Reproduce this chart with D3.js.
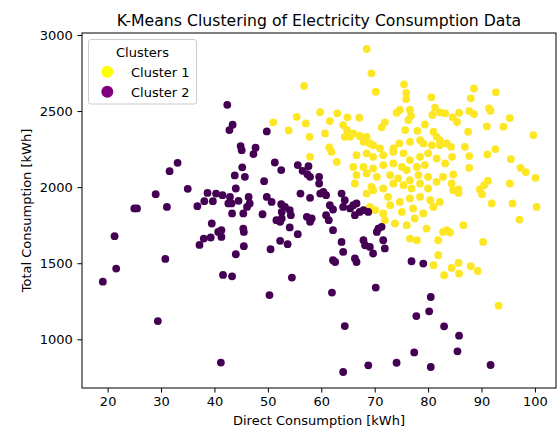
<!DOCTYPE html>
<html>
<head>
<meta charset="utf-8">
<script src="https://cdn.jsdelivr.net/npm/d3@7"></script>
<style>
  body { margin: 0; background: #fff; }
  svg text { font-family: "DejaVu Sans", sans-serif; fill: #000; }
</style>
</head>
<body>
<svg id="chart" width="558" height="430"></svg>
<script>
// cluster 1 (yellow) points: [direct kWh, total kWh]
const cluster1 = [
  [56.8,2665],[51.0,2426],[55.4,2462],[57.1,2419],[59.8,2493],[61.6,2434],[63.0,2485],[53.9,2373],[57.8,2331],[60.7,2353],
  [61.5,2261],[57.9,2199],[61.9,2232],[62.9,2166],[68.5,2908],[69.4,2748],[70.2,2627],[75.5,2676],[75.9,2620],[75.9,2579],
  [80.6,2590],[81.3,2522],[80.8,2474],[82.2,2491],[83.2,2485],[74.7,2507],[74.1,2489],[76.6,2507],[76.8,2469],[76.3,2441],
  [71.9,2426],[71.3,2393],[67.1,2456],[64.9,2459],[64.1,2408],[64.8,2375],[65.4,2331],[64.4,2331],[75.7,2375],[78.0,2370],
  [79.4,2412],[81.0,2364],[81.6,2331],[82.2,2309],[66.0,2353],[67.2,2336],[68.5,2331],[67.9,2298],[69.1,2287],[69.7,2276],
  [74.6,2287],[76.6,2298],[78.5,2309],[79.1,2287],[80.7,2276],[82.2,2276],[83.5,2287],[73.5,2255],[71.0,2255],[66.6,2210],
  [68.5,2222],[69.7,2199],[71.6,2210],[73.5,2232],[75.4,2222],[76.6,2178],[78.5,2199],[80.0,2222],[81.6,2189],[83.2,2156],
  [66.0,2133],[67.9,2133],[69.7,2123],[71.6,2145],[73.5,2156],[75.1,2133],[76.0,2112],[77.9,2133],[79.4,2145],[66.6,2079],
  [68.5,2090],[70.4,2068],[72.9,2079],[74.4,2057],[76.6,2046],[78.2,2079],[80.0,2068],[81.6,2035],[82.8,2068],[66.3,2024],
  [69.4,2002],[71.6,1991],[73.5,2024],[75.4,2013],[76.9,1991],[78.5,2024],[80.0,1991],[68.5,1958],[69.7,1980],[72.5,1936],
  [74.7,1903],[76.6,1926],[78.5,1936],[80.4,1914],[82.2,1903],[69.1,1870],[70.1,1849],[71.6,1827],[72.9,1881],[75.1,1837],
  [77.2,1860],[79.1,1827],[81.0,1870],[71.9,1783],[73.8,1761],[76.0,1750],[77.5,1794],[79.7,1728],[76.6,1662],[77.9,1651],
  [81.9,1651],[82.8,1706],[83.5,1717],[81.9,1553],[81.0,1487],[83.0,1421],[88.6,2649],[92.7,2623],[88.0,2584],[85.8,2489],
  [84.6,2459],[85.4,2428],[87.7,2500],[88.6,2480],[91.4,2518],[91.7,2502],[95.3,2454],[94.1,2397],[91.0,2399],[87.5,2364],
  [99.7,2342],[84.3,2265],[84.5,2199],[86.9,2265],[87.7,2204],[91.1,2215],[92.6,2250],[95.5,2184],[87.7,2127],[97.3,2127],
  [98.3,2099],[100.1,2061],[84.7,2083],[84.4,2024],[95.3,2024],[91.2,2041],[90.5,2013],[89.7,1985],[90.1,1954],[84.7,1980],
  [85.7,1985],[85.7,1962],[91.9,1893],[95.8,1893],[100.3,1870],[97.1,1787],[86.6,1750],[84.1,1702],[90.3,1640],[85.7,1502],
  [84.4,1469],[85.8,1432],[88.0,1480],[89.3,1449],[93.2,1221]
];

// cluster 2 (purple) points
const cluster2 = [
  [33.1,2160],[31.6,2105],[29.0,1954],[35.0,1989],[25.0,1860],[25.5,1860],[31.1,1870],[36.8,1875],[38.7,1962],[40.3,1958],
  [38.1,1908],[39.7,1908],[39.5,1761],[40.7,1706],[21.3,1678],[38.0,1662],[39.3,1669],[37.2,1620],[30.8,1528],[21.6,1465],
  [19.1,1379],[29.4,1120],[42.4,2541],[43.4,2410],[42.8,2375],[49.8,2366],[44.9,2270],[47.7,2259],[45.1,2243],[47.3,2217],
  [51.3,2162],[52.5,2112],[45.2,2130],[43.8,2077],[45.7,2068],[55.6,2145],[56.5,2107],[57.6,2138],[57.4,2085],[57.9,2068],
  [59.6,2068],[59.6,2024],[59.8,1958],[60.4,1969],[60.9,1947],[49.3,2039],[44.0,1991],[41.5,1947],[42.9,1936],[43.2,1893],
  [44.5,1910],[42.6,1893],[46.4,1936],[46.6,1893],[46.1,1870],[49.8,1936],[50.7,1903],[52.5,1888],[53.2,1870],[56.1,1958],
  [57.9,1930],[43.3,1827],[45.4,1827],[49.0,1822],[52.6,1837],[54.1,1849],[54.3,1816],[52.6,1794],[52.3,1772],[51.6,1783],
  [57.3,1805],[57.9,1772],[58.2,1794],[60.9,1816],[61.4,1783],[61.6,1881],[62.2,1853],[41.3,1717],[41.3,1673],[45.4,1728],
  [45.5,1706],[54.1,1735],[55.6,1691],[62.2,1717],[52.3,1647],[53.7,1625],[45.5,1612],[44.0,1559],[50.5,1592],[62.2,1520],
  [62.6,1508],[41.6,1423],[43.3,1414],[54.5,1406],[50.3,1291],[62.0,1307],[41.2,847],[63.8,1958],[64.4,1914],[65.4,1860],
  [64.1,1870],[66.0,1881],[66.6,1893],[66.3,1816],[67.2,1837],[67.9,1849],[68.8,1837],[70.7,1728],[71.3,1739],[70.4,1706],
  [63.8,1640],[64.1,1574],[67.9,1651],[68.2,1618],[69.1,1607],[71.6,1651],[71.9,1597],[69.7,1564],[66.3,1531],[66.6,1508],
  [76.9,1513],[79.1,1498],[70.2,1340],[64.4,1087],[80.5,1278],[80.2,1184],[77.8,1153],[83.0,1085],[77.4,914],[74.1,846],
  [68.8,829],[64.1,785],[80.5,818],[85.8,1024],[85.5,921],[91.7,831]
];

const xTicks = [20, 30, 40, 50, 60, 70, 80, 90, 100];
const yTicks = [1000, 1500, 2000, 2500, 3000];
const legendLabels = ["Cluster 1", "Cluster 2"];

const W = 558, H = 430;
const margin = {left: 82, right: 2, top: 33, bottom: 42};
const svg = d3.select("#chart");
const fs = "13px";

const x = d3.scaleLinear().domain([15.2, 103.95]).range([margin.left, W - margin.right]);
const y = d3.scaleLinear().domain([680, 3013]).range([H - margin.bottom, margin.top]);

// points
const pointColors = ["#fde725", "#440154"];
[cluster1, cluster2].forEach((pts, i) => {
    svg.append("g").selectAll("circle")
        .data(pts)
        .enter().append("circle")
        .attr("cx", d => x(d[0]))
        .attr("cy", d => y(d[1]))
        .attr("r", 3.9)
        .attr("fill", pointColors[i]);
});

// axes
const xAxis = svg.append("g")
    .attr("transform", `translate(0,${H - margin.bottom})`)
    .call(d3.axisBottom(x).tickValues(xTicks).tickFormat(d3.format("d")).tickSize(4.6).tickPadding(4.6).tickSizeOuter(0));
const yAxis = svg.append("g")
    .attr("transform", `translate(${margin.left},0)`)
    .call(d3.axisLeft(y).tickValues(yTicks).tickFormat(d3.format("d")).tickSize(4.6).tickPadding(4.6).tickSizeOuter(0));
[xAxis, yAxis].forEach(a => {
    a.select(".domain").remove();
    a.selectAll("text").style("font-size", fs).style("font-family", "DejaVu Sans");
    a.selectAll("line").attr("stroke", "#000").attr("stroke-width", 1);
});

// frame
svg.append("rect")
    .attr("x", margin.left).attr("y", margin.top)
    .attr("width", W - margin.right - margin.left)
    .attr("height", H - margin.bottom - margin.top)
    .attr("fill", "none").attr("stroke", "#000").attr("stroke-width", 1);

// title and labels
svg.append("text")
    .attr("x", (margin.left + W - margin.right) / 2).attr("y", 26)
    .attr("text-anchor", "middle").style("font-size", "15.7px")
    .text("K-Means Clustering of Electricity Consumption Data");
svg.append("text")
    .attr("x", (margin.left + W - margin.right) / 2).attr("y", 425)
    .attr("text-anchor", "middle").style("font-size", fs)
    .text("Direct Consumption [kWh]");
svg.append("text")
    .attr("transform", `translate(31,${(margin.top + H - margin.bottom) / 2}) rotate(-90)`)
    .attr("text-anchor", "middle").style("font-size", fs)
    .text("Total Consumption [kWh]");

// legend
const legend = svg.append("g");
legend.append("rect")
    .attr("x", 88.5).attr("y", 39.5).attr("width", 108).attr("height", 64.5)
    .attr("rx", 2.5)
    .attr("fill", "#fff").attr("fill-opacity", 0.8)
    .attr("stroke", "#cccccc").attr("stroke-width", 1);
legend.append("text")
    .attr("x", 142.5).attr("y", 56.5)
    .attr("text-anchor", "middle").style("font-size", fs)
    .text("Clusters");
const legendColors = ["yellow", "purple"];
legendLabels.forEach((lab, i) => {
    legend.append("circle")
        .attr("cx", 107.3).attr("cy", 71.7 + i * 20)
        .attr("r", 6).attr("fill", legendColors[i]);
    legend.append("text")
        .attr("x", 131).attr("y", 76.5 + i * 20)
        .style("font-size", fs)
        .text(lab);
});
</script>
</body>
</html>
